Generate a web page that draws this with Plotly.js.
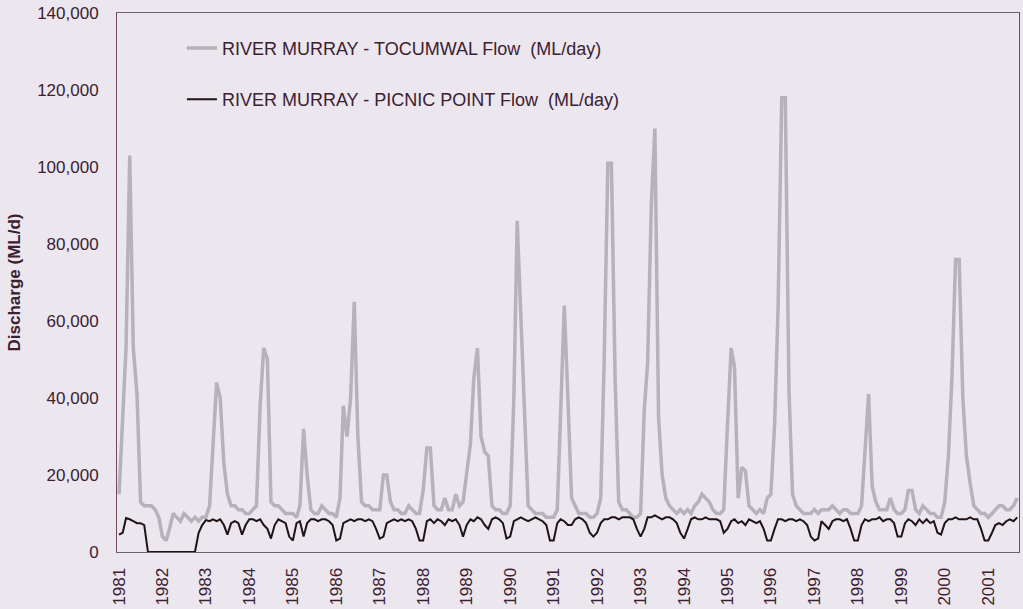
<!DOCTYPE html>
<html>
<head>
<meta charset="utf-8">
<script src="https://cdn.plot.ly/plotly-3.0.1.min.js"></script>
<style>
  html, body { margin: 0; padding: 0; background: #ece6ef; }
  #chart { width: 1023px; height: 609px; }
</style>
</head>
<body>
<div id="chart"></div>
<script>
// Monthly mean flows (ML/day, in thousands), one row per year, starting January 1981.
const startYear = 1981;

const tocumwal = [
  /* 1981 */ 15, 35, 53, 103, 53, 41, 13, 12, 12, 12, 11, 9,
  /* 1982 */ 4, 3, 6, 10, 9, 8, 10, 9, 8, 9, 8, 9,
  /* 1983 */ 9, 12, 27, 44, 40, 23, 15, 12, 12, 11, 11, 10,
  /* 1984 */ 10, 11, 12, 38, 53, 50, 13, 12, 12, 11, 10, 10,
  /* 1985 */ 10, 9, 12, 32, 20, 11, 10, 10, 12, 11, 10, 10,
  /* 1986 */ 9, 14, 38, 30, 40, 65, 30, 13, 12, 12, 11, 11,
  /* 1987 */ 11, 20, 20, 13, 11, 11, 10, 10, 12, 11, 10, 10,
  /* 1988 */ 16, 27, 27, 12, 11, 11, 14, 11, 11, 15, 12, 13,
  /* 1989 */ 21, 28, 45, 53, 30, 26, 25, 12, 11, 11, 10, 10,
  /* 1990 */ 12, 40, 86, 60, 35, 12, 11, 10, 10, 10, 9, 9,
  /* 1991 */ 9, 11, 35, 64, 40, 14, 12, 10, 10, 10, 9, 9,
  /* 1992 */ 10, 14, 50, 101, 101, 45, 13, 11, 11, 10, 9, 9,
  /* 1993 */ 10, 37, 49, 90, 110, 35, 20, 14, 12, 11, 10, 11,
  /* 1994 */ 10, 11, 10, 12, 13, 15, 14, 13, 11, 10, 10, 11,
  /* 1995 */ 33, 53, 48, 14, 22, 21, 12, 11, 10, 11, 10, 14,
  /* 1996 */ 15, 33, 63, 118, 118, 42, 15, 12, 11, 10, 10, 10,
  /* 1997 */ 11, 10, 11, 11, 11, 12, 11, 10, 11, 11, 10, 10,
  /* 1998 */ 10, 12, 25, 41, 17, 13, 11, 11, 11, 14, 11, 10,
  /* 1999 */ 10, 11, 16, 16, 11, 10, 12, 11, 10, 10, 9, 9,
  /* 2000 */ 13, 25, 45, 76, 76, 40, 25, 18, 12, 11, 10, 10,
  /* 2001 */ 9, 10, 11, 12, 12, 11, 11, 12, 14
];

const picnicPoint = [
  /* 1981 */ 4.5, 5, 8.8, 8.5, 8, 7.5, 7.5, 7, 0, 0, 0, 0,
  /* 1982 */ 0, 0, 0, 0, 0, 0, 0, 0, 0, 0, 5, 7,
  /* 1983 */ 8.3, 8, 8.5, 8, 8.5, 7, 4.5, 7.5, 8, 7.5, 4.5, 7,
  /* 1984 */ 8.5, 8.5, 8, 8.5, 7, 6, 3.5, 7, 8.5, 8, 7.5, 4,
  /* 1985 */ 3, 7.5, 8, 4, 7.5, 8.5, 8.5, 8, 8.5, 8.5, 8, 7,
  /* 1986 */ 3, 3.5, 7.5, 8, 8.5, 8, 8.5, 8.5, 8, 8.5, 8, 6,
  /* 1987 */ 3.5, 4, 7.5, 8, 8.5, 8, 8.5, 8, 8.5, 8, 6, 3,
  /* 1988 */ 3, 8, 8.5, 7.5, 8.5, 8, 7, 8.5, 8, 8.5, 7, 4,
  /* 1989 */ 7, 8.5, 8, 9, 8.5, 7, 6, 8.5, 9, 8.5, 7.5, 3.5,
  /* 1990 */ 4, 8, 8.5, 9, 8.5, 8, 8.5, 9, 8.5, 8, 7, 3,
  /* 1991 */ 3, 7.5, 8.5, 8, 7, 7, 8.5, 9, 8.5, 7.5, 5, 4,
  /* 1992 */ 5, 7.5, 8.5, 8.5, 9, 9, 8.5, 9, 9, 9, 8.5, 6,
  /* 1993 */ 4, 6, 9, 9, 9.5, 9, 8.5, 9, 9, 8.5, 7.5, 5,
  /* 1994 */ 3.5, 6, 8.5, 9, 8.5, 8.5, 9, 8.5, 8.5, 8.5, 8, 5,
  /* 1995 */ 6, 8, 8.5, 7.5, 8, 7, 8.5, 8, 7.5, 8, 6, 3,
  /* 1996 */ 3, 6, 8.5, 8.5, 8, 8.5, 8.5, 8, 8.5, 8, 7, 4,
  /* 1997 */ 3, 3.5, 8, 7, 6, 8, 8.5, 8.5, 8, 8.5, 6, 3,
  /* 1998 */ 3, 7, 8.5, 8, 8.5, 8.5, 9, 8, 8.5, 8.5, 7.5, 4,
  /* 1999 */ 4, 7.5, 8.5, 8, 7, 8.5, 7.5, 8.5, 7.5, 8, 5, 4.5,
  /* 2000 */ 7.5, 8.5, 8.5, 9, 8.5, 8.5, 8.5, 9, 8.5, 8.5, 6, 3,
  /* 2001 */ 3, 5, 7, 7.5, 7, 8, 8.5, 8, 9
];

const yearLabels = ['1981','1982','1983','1984','1985','1986','1987','1988','1989','1990',
  '1991','1992','1993','1994','1995','1996','1997','1998','1999','2000','2001'];

const seriesNames = [
  'RIVER MURRAY - TOCUMWAL Flow  (ML/day)',
  'RIVER MURRAY - PICNIC POINT Flow  (ML/day)'
];

// Month-start date for the i-th monthly value.
function monthDate(i) {
  const y = startYear + Math.floor(i / 12);
  const m = (i % 12) + 1;
  return y + '-' + String(m).padStart(2, '0') + '-01';
}
const toML = v => v * 1000;

const textColor = '#3b2130';
const bg = '#ece6ef';

const traces = [
  {
    x: tocumwal.map((_, i) => monthDate(i)),
    y: tocumwal.map(toML),
    name: seriesNames[0],
    type: 'scatter', mode: 'lines',
    line: { color: '#b6b1ba', width: 3.5 },
    legendgroup: 'a'
  },
  {
    x: picnicPoint.map((_, i) => monthDate(i)),
    y: picnicPoint.map(toML),
    name: seriesNames[1],
    type: 'scatter', mode: 'lines',
    line: { color: '#1f1316', width: 2 },
    legendgroup: 'b'
  }
];

const layout = {
  width: 1023, height: 609,
  paper_bgcolor: bg, plot_bgcolor: bg,
  margin: { l: 117, r: 4, t: 13, b: 57 },
  font: { family: 'Liberation Sans, Arial, sans-serif', color: textColor, size: 17 },
  showlegend: true,
  legend: {
    x: 0.072, y: 0.969, xanchor: 'left', yanchor: 'top',
    bgcolor: 'rgba(0,0,0,0)', borderwidth: 0,
    font: { size: 18, color: textColor },
    traceorder: 'grouped', tracegroupgap: 25
  },
  xaxis: {
    type: 'date',
    range: ['1980-12-15', '2001-09-16'],
    tickmode: 'array',
    tickvals: yearLabels.map(y => y + '-01-01'),
    ticktext: yearLabels,
    tickangle: -90,
    ticks: '',
    ticklabelstandoff: 8,
    showgrid: false, zeroline: false,
    showline: true, linecolor: '#6e6068', linewidth: 1, mirror: true,
    tickfont: { size: 17, color: textColor }
  },
  yaxis: {
    range: [0, 140000],
    tickmode: 'linear', tick0: 0, dtick: 20000,
    tickformat: ',d',
    ticks: '',
    ticklabelstandoff: 14,
    showgrid: false, zeroline: false,
    showline: true, linecolor: '#6e4a5a', linewidth: 1, mirror: true,
    tickfont: { size: 17, color: textColor },
    title: { text: '<b>Discharge (ML/d)</b>', font: { size: 17, color: textColor }, standoff: 12 }
  }
};

Plotly.newPlot('chart', traces, layout, { displayModeBar: false, staticPlot: true });
</script>
</body>
</html>
